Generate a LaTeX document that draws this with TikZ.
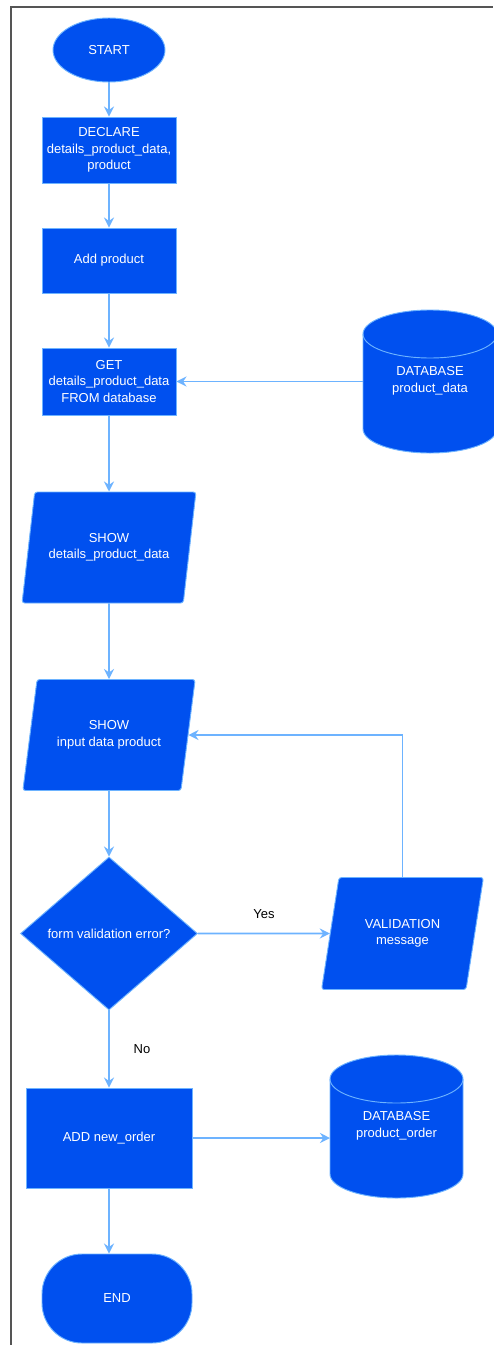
\documentclass[tikz,border=0pt]{standalone}
\usepackage{fontspec}
\setmainfont{Liberation Sans}
\usetikzlibrary{shapes.geometric,arrows.meta}
\definecolor{fillblue}{HTML}{0050EF}
\definecolor{lineblue}{HTML}{6DB3FF}
\definecolor{framegray}{HTML}{555555}
\begin{document}
\begin{tikzpicture}[x=0.75pt,y=-0.75pt,
  box/.style={draw=lineblue, line width=0.7pt, fill=fillblue, text=white,
    font=\fontsize{9.75}{12.4}\selectfont, align=center, inner sep=0pt},
  iobox/.style={box, trapezium, trapezium left angle=70, trapezium right angle=110,
    trapezium stretches=true, rounded corners=2pt},
  conn/.style={draw=lineblue, line width=1.4pt, -{Stealth[length=7.5pt,width=7.5pt,inset=2.5pt]}},
  lbl/.style={font=\fontsize{9.75}{11}\selectfont, text=black, inner sep=0pt},
  cyl/.style={fill=fillblue, draw=lineblue, line width=0.7pt},
  cyltext/.style={text=white, font=\fontsize{9.75}{12.4}\selectfont, align=center, inner sep=0pt}]
\useasboundingbox (0,0) rectangle (493,1345);
\fill[white] (0,0) rectangle (493,1345);
\draw[framegray, line width=0.8pt] (11,1345) -- (11,7) -- (493,7);

% nodes
\node[box, ellipse, minimum width=84pt, minimum height=48pt] (start) at (109,50) {START};
\node[box, minimum width=100.5pt, minimum height=49.5pt] (declare) at (109,150) {DECLARE\\details\_product\_data,\\product};
\node[box, minimum width=100.5pt, minimum height=48.75pt] (add) at (109,260.5) {Add product};
\node[box, minimum width=100.5pt, minimum height=50.25pt] (get) at (109,381.5) {GET\\details\_product\_data\\FROM database};
\node[iobox, minimum width=130.5pt, minimum height=83.25pt] (show1) at (109,547.5) {SHOW\\details\_product\_data};
\node[iobox, minimum width=130.5pt, minimum height=83.25pt] (show2) at (109,735) {SHOW\\input data product};
\node[box, diamond, minimum width=132.75pt, minimum height=114.75pt] (dec) at (109,933.5) {form validation error?};
\node[iobox, minimum width=122.25pt, minimum height=84pt] (val) at (402.5,933.5) {VALIDATION\\message};
\node[box, minimum width=124.5pt, minimum height=75pt] (addorder) at (109,1138) {ADD new\_order};
\node[box, minimum width=112.5pt, minimum height=66.75pt, rounded corners=30pt] (end) at (117,1298.5) {END};

% cylinder 1 (DATABASE product_data)
\path[cyl] (363,334) -- (363,429) arc[start angle=180, end angle=360, x radius=50.25pt, y radius=18pt]
  -- (497,334) arc[start angle=0, end angle=180, x radius=50.25pt, y radius=18pt] -- cycle;
\draw[lineblue, line width=0.7pt] (363,334) arc[start angle=180, end angle=360, x radius=50.25pt, y radius=18pt];
\node[cyltext] (db1text) at (430,381) {DATABASE\\product\_data};
\coordinate (db1) at (363,381.5);

% cylinder 2 (DATABASE product_order)
\path[cyl] (330,1079) -- (330,1174) arc[start angle=180, end angle=360, x radius=49.875pt, y radius=18pt]
  -- (463,1079) arc[start angle=0, end angle=180, x radius=49.875pt, y radius=18pt] -- cycle;
\draw[lineblue, line width=0.7pt] (330,1079) arc[start angle=180, end angle=360, x radius=49.875pt, y radius=18pt];
\node[cyltext] (db2text) at (396.5,1126) {DATABASE\\product\_order};
\coordinate (db2) at (330,1138);

% connectors
\draw[conn] (start.south) -- (declare.north);
\draw[conn] (declare.south) -- (add.north);
\draw[conn] (add.south) -- (get.north);
\draw[conn] (db1) -- (get.east);
\draw[conn] (get.south) -- (show1.north);
\draw[conn] (show1.south) -- (show2.north);
\draw[conn] (show2.south) -- (dec.north);
\draw[conn] (dec.east) -- (val.west);
\draw[conn] (val.north) -- (val.north |- show2.east) -- (show2.east);
\draw[conn] (dec.south) -- (addorder.north);
\draw[conn] (addorder.east) -- (db2);
\draw[conn] (addorder.south) -- (addorder.south |- end.north);

% labels
\node[lbl] (yes) at (264,914) {Yes};
\node[lbl] (no) at (142,1049) {No};
\end{tikzpicture}
\end{document}
